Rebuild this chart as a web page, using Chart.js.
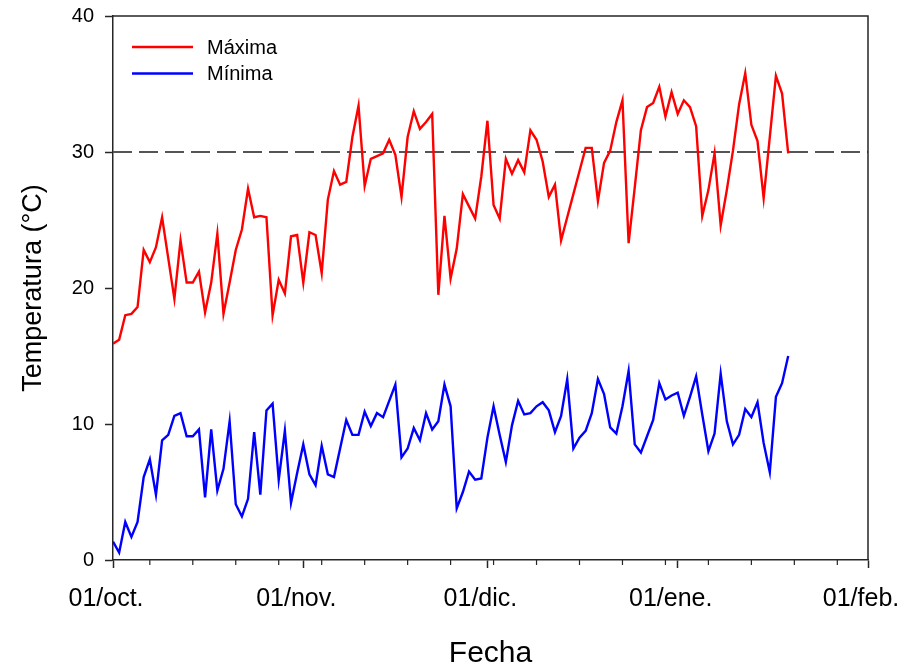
<!DOCTYPE html>
<html lang="es">
<head>
<meta charset="utf-8">
<title>Temperatura máxima y mínima diaria</title>
<script src="https://cdn.jsdelivr.net/npm/chart.js@4.4.1/dist/chart.umd.min.js"></script>
<style>
  html, body { margin: 0; padding: 0; background: #ffffff; }
  #marco { position: relative; width: 915px; height: 667px; }
</style>
</head>
<body>
<div id="marco"><canvas id="grafico"></canvas></div>
<script>
// Eje X: días transcurridos desde el 1 de octubre
const inicioMes = [0, 31, 61, 92, 123];
const etiquetasMes = ['01/oct.', '01/nov.', '01/dic.', '01/ene.', '01/feb.'];
const semanas = [6, 13, 20, 27, 34, 41, 48, 55, 62, 69, 76, 83, 90, 97, 104, 111, 118];

// Eje Y
const ticksTemp = [0, 10, 20, 30, 40];
const umbral = 30;

const nombresSerie = ['Máxima', 'Mínima'];

// Temperatura máxima diaria (°C)
const maxima = [
  15.9, 16.2, 18.0, 18.1, 18.6, 22.8, 21.9, 23.0, 25.2, 22.2,
  19.2, 23.5, 20.4, 20.4, 21.2, 18.2, 20.4, 24.0, 18.1, 20.4,
  22.8, 24.3, 27.3, 25.2, 25.3, 25.2, 18.0, 20.6, 19.6, 23.8,
  23.9, 20.4, 24.1, 23.9, 21.1, 26.5, 28.6, 27.6, 27.8, 31.1,
  33.4, 27.5, 29.5, 29.7, 29.9, 30.9, 29.8, 26.7, 31.1, 33.0,
  31.7, 32.2, 32.8, 19.5, 25.3, 20.7, 22.9, 26.9, 26.0, 25.1,
  28.2, 32.3, 26.1, 25.1, 29.5, 28.4, 29.4, 28.5, 31.6, 30.9,
  29.3, 26.7, 27.6, 23.5, 25.2, 26.9, 28.6, 30.3, 30.3, 26.4,
  29.2, 30.1, 32.2, 33.8, 23.3, 27.4, 31.6, 33.3, 33.6, 34.8,
  32.6, 34.4, 32.8, 33.8, 33.3, 31.9, 25.3, 27.2, 29.9, 24.6,
  27.2, 30.1, 33.5, 35.8, 32.0, 30.8, 26.6, 31.1, 35.6, 34.3,
  29.9
];

// Temperatura mínima diaria (°C)
const minima = [
  1.35, 0.54, 2.8, 1.7, 2.8, 6.1, 7.4, 4.8, 8.8, 9.2,
  10.6, 10.8, 9.1, 9.1, 9.6, 4.6, 9.6, 5.1, 6.7, 10.2,
  4.1, 3.2, 4.5, 9.4, 4.8, 11.0, 11.5, 5.9, 9.5, 4.2,
  6.4, 8.5, 6.3, 5.5, 8.4, 6.3, 6.1, 8.2, 10.3, 9.2,
  9.2, 10.9, 9.85, 10.8, 10.5, 11.7, 12.9, 7.55, 8.2, 9.7,
  8.8, 10.8, 9.6, 10.2, 12.9, 11.3, 3.8, 5.0, 6.5, 5.9,
  6.0, 9.0, 11.3, 9.2, 7.2, 9.9, 11.7, 10.7, 10.8, 11.3,
  11.6, 11.0, 9.4, 10.6, 13.3, 8.2, 9.0, 9.5, 10.8, 13.3,
  12.2, 9.75, 9.3, 11.3, 13.9, 8.5, 7.9, 9.1, 10.3, 13.0,
  11.8, 12.1, 12.3, 10.6, 12.0, 13.5, 10.7, 8.0, 9.3, 13.7,
  10.2, 8.5, 9.2, 11.1, 10.5, 11.6, 8.6, 6.45, 12.0, 13.0,
  15.0
];

const dias = maxima.map((_, i) => i);
const fuente = "'Liberation Sans', Arial, sans-serif";
const colorEje = '#262626';

const comoPuntos = serie => serie.map((v, i) => ({ x: dias[i], y: v }));

// El área de trazado queda fijada por layout.padding y el ancho/alto de los ejes
const sinRelleno = s => {
  s.paddingTop = 0;
  s.paddingBottom = 0;
  s.paddingLeft = 0;
  s.paddingRight = 0;
};

// Marco superior/derecho, marcas semanales y leyenda
const decoracion = {
  id: 'decoracion',
  afterDraw(chart) {
    const { ctx, chartArea: a, scales: { x } } = chart;
    ctx.save();
    ctx.strokeStyle = colorEje;
    ctx.lineWidth = 1.5;
    ctx.beginPath();
    ctx.moveTo(a.left, a.top);
    ctx.lineTo(a.right, a.top);
    ctx.lineTo(a.right, a.bottom);
    ctx.stroke();

    ctx.lineWidth = 1.2;
    ctx.beginPath();
    semanas.forEach(d => {
      const px = x.getPixelForValue(d);
      ctx.moveTo(px, a.bottom);
      ctx.lineTo(px, a.bottom + 5);
    });
    ctx.stroke();

    // Leyenda
    ctx.font = '20px ' + fuente;
    ctx.textBaseline = 'middle';
    ctx.textAlign = 'left';
    chart.data.datasets
      .filter(ds => nombresSerie.includes(ds.label))
      .forEach((ds, i) => {
        const y = a.top + 31 + i * 26.5;
        const x0 = a.left + 19;
        ctx.strokeStyle = ds.borderColor;
        ctx.lineWidth = 2.5;
        ctx.beginPath();
        ctx.moveTo(x0, y);
        ctx.lineTo(x0 + 61, y);
        ctx.stroke();
        ctx.fillStyle = '#000000';
        ctx.fillText(ds.label, x0 + 75, y + 1);
      });
    ctx.restore();
  }
};

new Chart(document.getElementById('grafico'), {
  type: 'line',
  data: {
    datasets: [
      {
        label: nombresSerie[0],
        data: comoPuntos(maxima),
        borderColor: '#ff0000',
        borderWidth: 2.4,
        pointRadius: 0,
        tension: 0
      },
      {
        label: nombresSerie[1],
        data: comoPuntos(minima),
        borderColor: '#0000ff',
        borderWidth: 2.4,
        pointRadius: 0,
        tension: 0
      },
      {
        label: 'Umbral',
        data: [{ x: inicioMes[0], y: umbral }, { x: inicioMes[inicioMes.length - 1], y: umbral }],
        borderColor: '#555555',
        borderWidth: 2,
        borderDash: [19, 7],
        pointRadius: 0,
        tension: 0
      }
    ]
  },
  plugins: [decoracion],
  options: {
    responsive: true,
    maintainAspectRatio: false,
    animation: false,
    events: [],
    layout: { padding: { top: 16, right: 47, left: 0, bottom: 0 } },
    plugins: {
      legend: { display: false },
      tooltip: { enabled: false }
    },
    scales: {
      x: {
        type: 'linear',
        min: inicioMes[0],
        max: inicioMes[inicioMes.length - 1],
        afterBuildTicks: s => { s.ticks = inicioMes.map(v => ({ value: v })); },
        afterFit: s => { s.height = 107; sinRelleno(s); },
        grid: {
          drawOnChartArea: false,
          tickLength: 8,
          tickColor: colorEje,
          tickWidth: 1.5
        },
        border: { display: true, color: colorEje, width: 1.5 },
        ticks: {
          autoSkip: false,
          maxRotation: 0,
          padding: 16,
          labelOffset: -7,
          color: '#000000',
          font: { family: fuente, size: 25 },
          callback: v => etiquetasMes[inicioMes.indexOf(v)]
        },
        title: {
          display: true,
          text: 'Fecha',
          color: '#000000',
          font: { family: fuente, size: 30, lineHeight: 1 },
          padding: { top: 0, bottom: -2 }
        }
      },
      y: {
        type: 'linear',
        min: ticksTemp[0],
        max: ticksTemp[ticksTemp.length - 1],
        afterBuildTicks: s => { s.ticks = ticksTemp.map(v => ({ value: v })); },
        afterFit: s => { s.width = 113; sinRelleno(s); },
        grid: {
          drawOnChartArea: false,
          tickLength: 8,
          tickColor: colorEje,
          tickWidth: 1.5
        },
        border: { display: true, color: colorEje, width: 1.5 },
        ticks: {
          padding: 11,
          color: '#000000',
          font: { family: fuente, size: 20 }
        },
        title: {
          display: true,
          text: 'Temperatura (°C)',
          color: '#000000',
          font: { family: fuente, size: 27, lineHeight: 1.2 },
          padding: { top: 17, bottom: 0 }
        }
      }
    }
  }
});
</script>
</body>
</html>
